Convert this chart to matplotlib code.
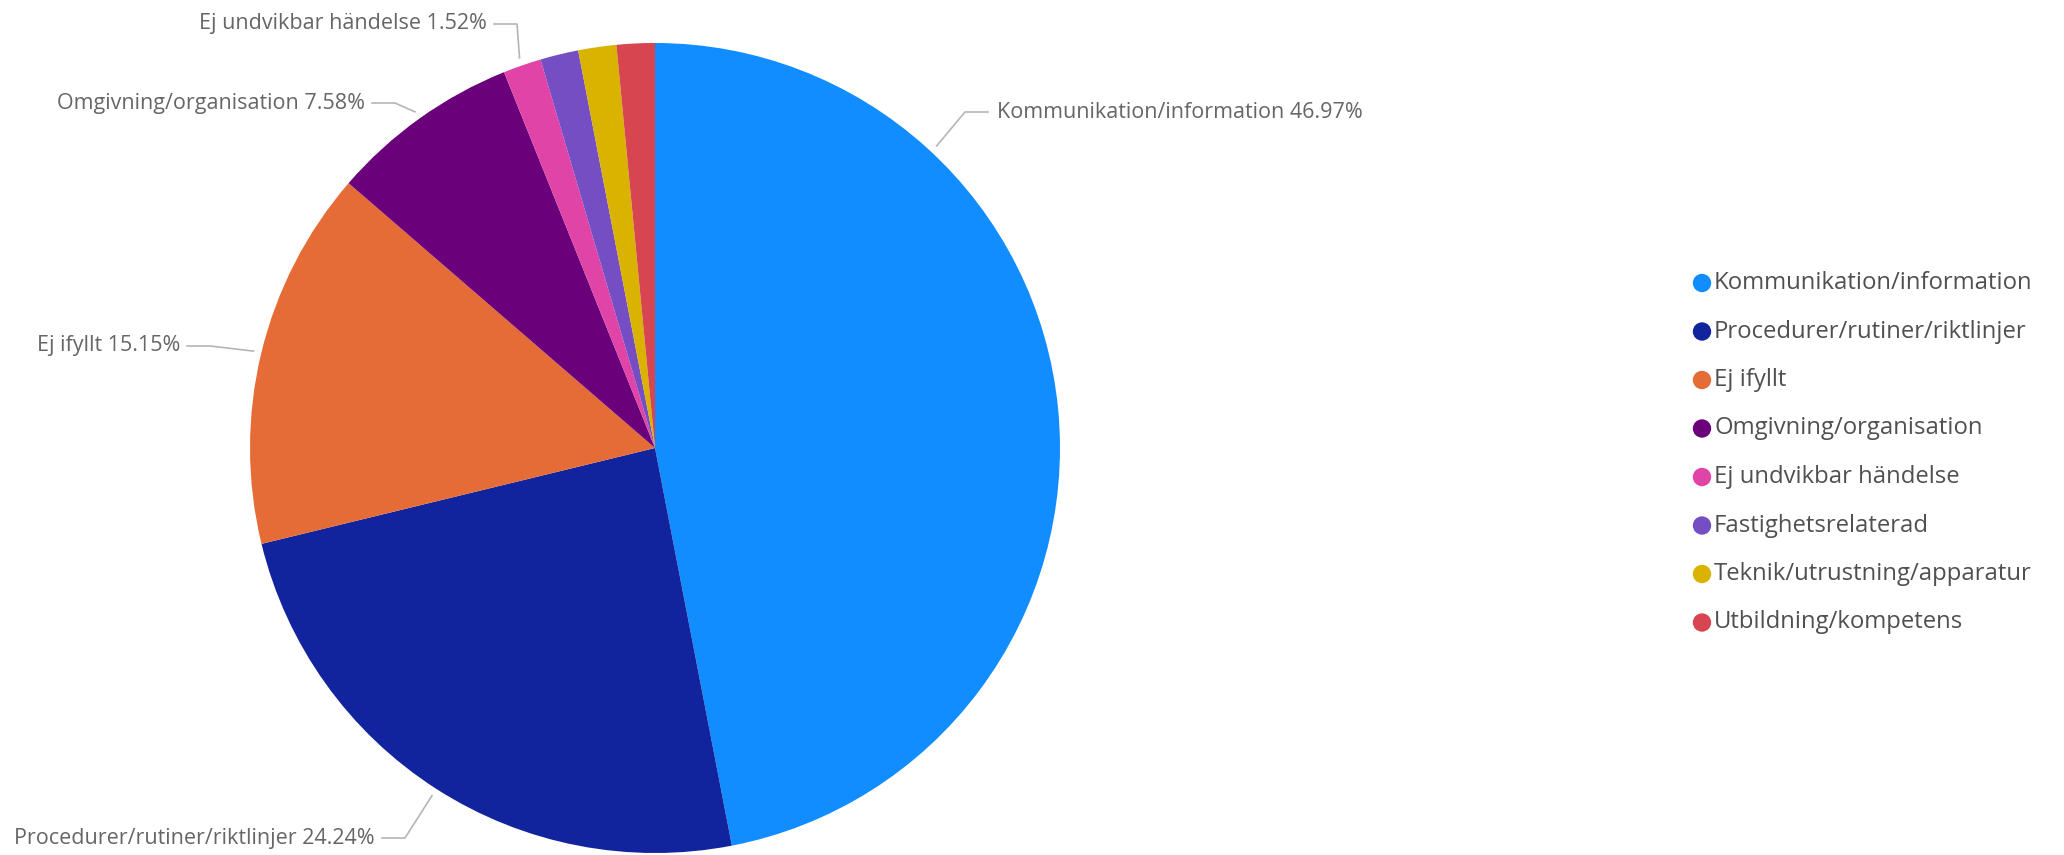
import numpy as np
import matplotlib.pyplot as plt

categories = [
    "Kommunikation/information",
    "Procedurer/rutiner/riktlinjer",
    "Ej ifyllt",
    "Omgivning/organisation",
    "Ej undvikbar händelse",
    "Fastighetsrelaterad",
    "Teknik/utrustning/apparatur",
    "Utbildning/kompetens",
]
percent = [46.97, 24.24, 15.15, 7.58, 1.52, 1.52, 1.52, 1.52]
colors = ["#118DFF", "#12239E", "#E66C37", "#6B007B",
          "#E044A7", "#744EC2", "#D9B300", "#D64550"]

W, H = 2064, 855
CX, CY, R = 655, 448, 405   # pie centre/radius in pixels (y from top)

# label layout: (elbow x, elbow y, text y, side) in pixels; labels for small slices hidden
label_layout = {
    0: (965, 112, 112, "right"),
    1: (405, 838, 838, "left"),
    2: (210, 346, 346, "left"),
    3: (395, 103, 103, "left"),
    4: (517, 24, 24, "left"),
}
anchor_angle_override = {0: 47.0}

plt.rcParams['font.family'] = ['Open Sans', 'DejaVu Sans']

fig = plt.figure(figsize=(W / 100, H / 100), dpi=100)
ax = fig.add_axes([0, 0, 1, 1])

wedges, _ = ax.pie(percent, colors=colors, startangle=90, counterclock=False,
                   center=(CX, H - CY), radius=R, frame=True,
                   wedgeprops=dict(linewidth=0))
ax.set_xlim(0, W)
ax.set_ylim(0, H)
ax.set_aspect("equal")
ax.axis("off")

label_col = "#666666"
line_col = "#B5B5B5"
for i, w in enumerate(wedges):
    if i not in label_layout:
        continue
    ang = anchor_angle_override.get(i, (w.theta1 + w.theta2) / 2)
    ax_x = CX + (R + 8) * np.cos(np.radians(ang))
    ax_y = (H - CY) + (R + 8) * np.sin(np.radians(ang))
    ex, ey, ty, side = label_layout[i]
    ey, ty = H - ey, H - ty
    txt = f"{categories[i]} {percent[i]:.2f}%"
    if side == "right":
        end_x = ex + 23
        ax.plot([ax_x, ex, end_x], [ax_y, ey, ey], color=line_col, lw=1.2)
        ax.text(end_x + 9, ty, txt, ha="left", va="center",
                fontsize=15.5, color=label_col)
    else:
        end_x = ex - 23
        ax.plot([ax_x, ex, end_x], [ax_y, ey, ey], color=line_col, lw=1.2)
        ax.text(end_x - 7, ty, txt, ha="right", va="center",
                fontsize=15.5, color=label_col)

# legend
leg_x, leg_y0, leg_step = 1702, 283, 48.5
for i, (name, c) in enumerate(zip(categories, colors)):
    y = H - (leg_y0 + i * leg_step)
    ax.scatter([leg_x], [y], s=175, color=c, edgecolors="none")
    ax.text(leg_x + 12, y, name, ha="left", va="center",
            fontsize=17.2, color="#505050")

fig.savefig("out.png", dpi=100, facecolor="white")
